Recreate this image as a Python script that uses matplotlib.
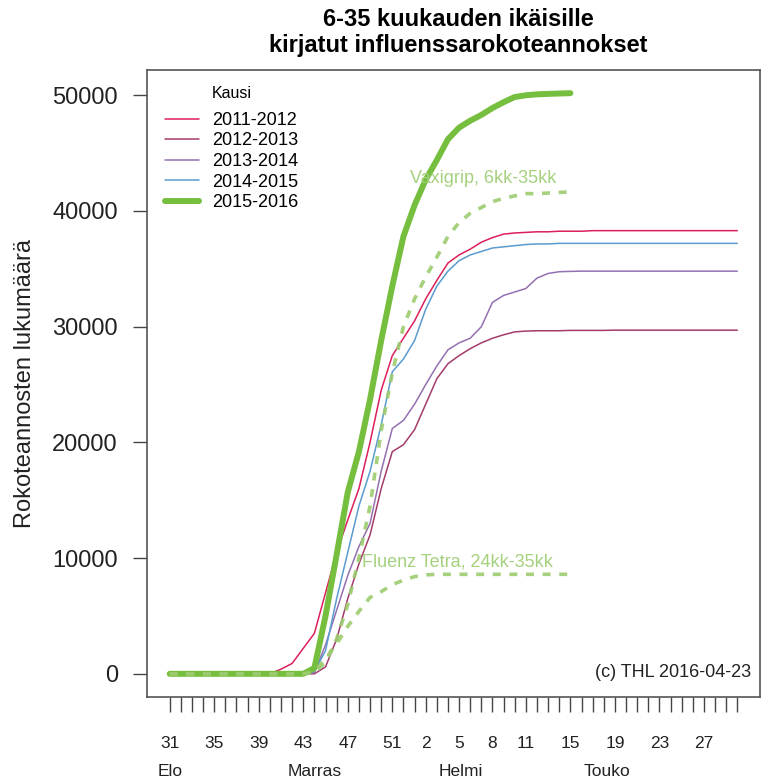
import matplotlib
matplotlib.use("Agg")
import matplotlib.pyplot as plt
import numpy as np

plt.rcParams.update({'font.family': ['Liberation Sans', 'DejaVu Sans']})

# week index 0 = week 31 (August), 51 = week 30 of the next year
tick_pos = [0, 4, 8, 12, 16, 20, 23, 26, 29, 32, 36, 40, 44, 48]
tick_labels = ['31', '35', '39', '43', '47', '51', '2', '5', '8', '11', '15', '19', '23', '27']
month_pos = [0, 13, 26.2, 39.3]
month_labels = ['Elo', 'Marras', 'Helmi', 'Touko']

seasons = ['2011-2012', '2012-2013', '2013-2014', '2014-2015', '2015-2016']
colors = ['#DC1F5A', '#A33C6B', '#9470B0', '#5A9BD0', '#76BE3E']

s2011 = [0]*10 + [400, 900, 2200, 3500, 7000, 10500, 13300, 16000, 20000, 24500,
                  27500, 29000, 30500, 32400, 34000, 35500, 36200, 36700, 37300, 37700,
                  38000, 38100, 38150, 38200, 38200, 38250, 38250, 38250, 38300, 38300,
                  38300, 38300, 38300, 38300, 38300, 38300, 38300, 38300, 38300, 38300,
                  38300, 38300]
s2012 = [0]*14 + [600, 3000, 6500, 9500, 12000, 16000, 19200, 19800, 21100, 23300,
                  25500, 26800, 27500, 28100, 28600, 29000, 29300, 29550, 29620, 29650,
                  29650, 29650, 29680, 29680, 29680, 29680, 29700, 29700, 29700, 29700,
                  29700, 29700, 29700, 29700, 29700, 29700, 29700, 29700]
s2013 = [0]*13 + [100, 2500, 5500, 8500, 11000, 13000, 17500, 21200, 21900, 23300,
                  25000, 26600, 28000, 28600, 29000, 30000, 32100, 32700, 33000, 33300,
                  34200, 34600, 34750, 34780, 34800, 34800, 34800, 34800, 34800, 34800,
                  34800, 34800, 34800, 34800, 34800, 34800, 34800, 34800, 34800]
s2014 = [0]*13 + [200, 2000, 6500, 10500, 14500, 17500, 21500, 26100, 27200, 28800,
                  31500, 33500, 34800, 35700, 36200, 36500, 36800, 36900, 37000, 37100,
                  37150, 37150, 37200, 37200, 37200, 37200, 37200, 37200, 37200, 37200,
                  37200, 37200, 37200, 37200, 37200, 37200, 37200, 37200, 37200]
s2015 = [0]*13 + [500, 5000, 10300, 15700, 19200, 23700, 28800, 33500, 37800, 40500,
                  42700, 44400, 46200, 47200, 47800, 48300, 48900, 49400, 49850, 50000,
                  50080, 50120, 50150, 50180]

vaxigrip = [0]*13 + [100, 1000, 3000, 6000, 10000, 14500, 21000, 26000, 30000, 32400,
                     34300, 36000, 37800, 39000, 39800, 40300, 40800, 41100, 41300, 41500,
                     41500, 41550, 41600, 41650]
fluenz = [0]*13 + [200, 1300, 2600, 4100, 5400, 6600, 7100, 7700, 8100, 8400,
                   8550, 8600, 8600, 8600, 8600, 8600, 8600, 8600, 8600, 8600,
                   8600, 8600, 8600, 8600]

series = [s2011, s2012, s2013, s2014, s2015]

fig = plt.figure(figsize=(7.64, 7.79), dpi=100)
ax = fig.add_axes([0.1924, 0.1052, 0.8024, 0.8050])

for vals, lab, col in zip(series, seasons, colors):
    lw = 4.3 if lab == '2015-2016' else 1.1
    ax.plot(np.arange(len(vals)), vals, color=col, lw=lw, label=lab,
            solid_capstyle='round')

dash_col = '#9CCB6E'
ax.plot(np.arange(len(vaxigrip)), vaxigrip, color=dash_col, lw=2.6,
        linestyle=(0, (2.2, 2.4)), alpha=0.9)
ax.plot(np.arange(len(fluenz)), fluenz, color=dash_col, lw=2.6,
        linestyle=(0, (2.2, 2.4)), alpha=0.9)

ax.text(21.6, 42800, 'Vaxigrip, 6kk-35kk', color='#A5D17F', fontsize=13,
        ha='left', va='center')
ax.text(17.3, 9700, 'Fluenz Tetra, 24kk-35kk', color='#A5D17F', fontsize=13,
        ha='left', va='center')
ax.text(0.985, 0.025, '(c) THL 2016-04-23', transform=ax.transAxes,
        fontsize=13, ha='right', va='bottom', color='#222222')

n = len(s2011)
ymax = max(s2015)
ax.set_xlim(-0.04 * (n - 1), (n - 1) * 1.04)
ax.set_ylim(-0.04 * ymax, ymax * 1.04)

ax.set_xticks(np.arange(n))
ax.set_xticklabels(['' for _ in range(n)])
ax.tick_params(axis='x', length=11, width=1, color='#444444', direction='out')
for p, l in zip(tick_pos, tick_labels):
    ax.annotate(l, xy=(p, 0), xycoords=('data', 'axes fraction'),
                xytext=(0, -46), textcoords='offset pixels',
                ha='center', va='center', fontsize=12.5, color='#222222')
for p, l in zip(month_pos, month_labels):
    ax.annotate(l, xy=(p, 0), xycoords=('data', 'axes fraction'),
                xytext=(0, -74), textcoords='offset pixels',
                ha='center', va='center', fontsize=12.5, color='#222222')

ax.set_yticks([0, 10000, 20000, 30000, 40000, 50000])
ax.set_yticklabels(['0', '10000', '20000', '30000', '40000', '50000'])
ax.tick_params(axis='y', length=10, width=1, color='#444444', labelsize=17,
               pad=11, labelcolor='#222222')
ax.set_ylabel('Rokoteannosten lukumäärä', fontsize=17, labelpad=12, color='#222222')

for sp in ax.spines.values():
    sp.set_color('#555555')
    sp.set_linewidth(1.2)

fig.suptitle('6-35 kuukauden ikäisille\nkirjatut influenssarokoteannokset',
             x=0.5995, y=0.99, fontsize=17, fontweight='bold',
             linespacing=1.2, va='top')

leg = ax.legend(loc='upper left', bbox_to_anchor=(0.008, 0.995), frameon=False,
                fontsize=13, title='Kausi', title_fontsize=11.5,
                handlelength=1.9, handletextpad=0.75, labelspacing=0.2,
                borderaxespad=0.3)
leg._legend_box.align = 'center'
leg._legend_box.sep = 8

fig.savefig('out.png', dpi=100)
